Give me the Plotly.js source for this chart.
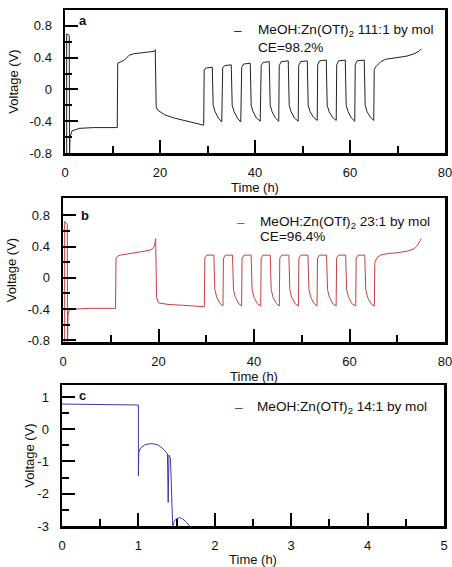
<!DOCTYPE html>
<html><head><meta charset="utf-8">
<script src="https://cdn.plot.ly/plotly-3.0.1.min.js"></script>
<style>html,body{margin:0;padding:0;background:#fff}#chart{width:452px;height:567px}</style>
</head><body><div id="chart"></div>
<script>
// ---- Panel a: MeOH:Zn(OTf)2 111:1 ----
const timeA = [0.35,0.35,0.9,0.95,1.05,1.5,3,6,11,
  11.1,12,12.5,13.5,14.5,16,18,18.8,19.0,19.2,19.5,21,23,25,27,28.5,29.2,
  29.3,29.8,31.0,31.2,31.6,32.3,33.0,
  33.2,33.6,35.0,35.2,35.6,36.3,37.0,
  37.2,37.6,39.0,39.2,39.6,40.3,41.1,
  41.3,41.7,43.0,43.2,43.6,44.3,45.0,
  45.1,45.5,47.0,47.2,47.6,48.3,49.1,
  49.2,49.6,51.0,51.2,51.6,52.3,53.1,
  53.2,53.6,55.0,55.2,55.6,56.3,57.1,
  57.2,57.6,59.0,59.2,59.6,60.3,61.0,
  61.1,61.5,63.0,63.2,63.6,64.3,65.0,
  65.1,65.5,66.5,67.5,70,72,73.5,74.5,75];
const voltA = [-0.9,0.7,0.68,-0.9,-0.6,-0.52,-0.49,-0.48,-0.48,
  0.33,0.35,0.37,0.43,0.45,0.46,0.47,0.48,0.5,-0.22,-0.26,-0.32,-0.36,-0.39,-0.42,-0.44,-0.45,
  0.25,0.27,0.28,-0.2,-0.28,-0.36,-0.41,
  0.27,0.30,0.31,-0.2,-0.28,-0.36,-0.41,
  0.28,0.32,0.33,-0.2,-0.28,-0.36,-0.40,
  0.30,0.34,0.35,-0.2,-0.28,-0.36,-0.40,
  0.30,0.35,0.36,-0.2,-0.28,-0.36,-0.40,
  0.30,0.35,0.36,-0.2,-0.28,-0.35,-0.39,
  0.31,0.36,0.37,-0.2,-0.28,-0.35,-0.39,
  0.31,0.36,0.37,-0.2,-0.28,-0.36,-0.40,
  0.31,0.36,0.37,-0.2,-0.28,-0.35,-0.39,
  0.25,0.29,0.35,0.38,0.40,0.42,0.45,0.48,0.51];

// ---- Panel b: MeOH:Zn(OTf)2 23:1 ----
const timeB = [0.35,0.35,0.9,0.95,1.05,1.3,2,6,11,
  11.1,11.5,12,14,16,18,18.8,19.2,19.4,19.5,19.6,20,22,25,28,29.6,
  29.7,30.1,31.6,31.8,32.2,32.9,33.5,
  33.6,34.0,35.5,35.7,36.1,36.8,37.4,
  37.5,37.9,39.4,39.6,40.0,40.7,41.4,
  41.5,41.9,43.4,43.6,44.0,44.7,45.3,
  45.4,45.8,47.3,47.5,47.9,48.6,49.3,
  49.4,49.8,51.3,51.5,51.9,52.6,53.2,
  53.3,53.7,55.2,55.4,55.8,56.5,57.2,
  57.3,57.7,59.2,59.4,59.8,60.5,61.3,
  61.4,61.8,63.2,63.4,63.8,64.5,65.2,
  65.3,65.8,66.5,68,70,72,73.5,74.3,75];
const voltB = [-0.9,0.72,0.68,-0.9,-0.48,-0.41,-0.40,-0.39,-0.39,
  0.25,0.28,0.29,0.31,0.33,0.35,0.37,0.42,0.5,0.2,-0.25,-0.32,-0.34,-0.35,-0.36,-0.37,
  0.25,0.29,0.29,-0.15,-0.25,-0.33,-0.36,
  0.25,0.29,0.29,-0.15,-0.25,-0.33,-0.36,
  0.25,0.29,0.29,-0.15,-0.25,-0.33,-0.36,
  0.25,0.29,0.29,-0.15,-0.25,-0.33,-0.36,
  0.25,0.29,0.29,-0.15,-0.25,-0.33,-0.36,
  0.25,0.29,0.29,-0.15,-0.25,-0.33,-0.36,
  0.25,0.29,0.29,-0.15,-0.25,-0.33,-0.36,
  0.25,0.29,0.29,-0.15,-0.25,-0.33,-0.36,
  0.25,0.29,0.29,-0.15,-0.25,-0.33,-0.36,
  0.2,0.26,0.29,0.31,0.32,0.34,0.37,0.42,0.5];

// ---- Panel c: MeOH:Zn(OTf)2 14:1 ----
const timeC = [0,0.5,0.99,1.0,1.0,1.005,1.03,1.08,1.14,1.19,1.25,1.31,1.35,1.38,1.39,1.40,1.42,1.43,1.44,1.45,1.47,1.50,1.54,1.58,1.62,1.67];
const voltC = [0.78,0.77,0.76,0.75,-1.45,-0.72,-0.58,-0.49,-0.45,-0.45,-0.48,-0.58,-0.68,-0.76,-2.27,-0.8,-0.9,-2.3,-2.4,-3.0,-2.85,-2.77,-2.74,-2.78,-2.86,-3.0];

// ---- ticks ----
const yTickValsAB = [-0.8,-0.4,0,0.4,0.8];
const yTickTextAB = ['-0.8','-0.4','0','0.4','0.8'];
const yMinorAB = [-0.6,-0.2,0.2,0.6];
const xTickValsAB = [0,20,40,60,80];
const xTickTextAB = ['0','20','40','60','80'];
const xMinorAB = [10,30,50,70];
const yTickValsC = [-3,-2,-1,0,1];
const yTickTextC = ['-3','-2','-1','0','1'];
const yMinorC = [-2.5,-1.5,-0.5,0.5];
const xTickValsC = [0,1,2,3,4,5];
const xTickTextC = ['0','1','2','3','4','5'];
const xMinorC = [0.5,1.5,2.5,3.5,4.5];

const legendA = 'MeOH:Zn(OTf)<sub>2</sub> 111:1 by mol';
const legendB = 'MeOH:Zn(OTf)<sub>2</sub> 23:1 by mol';
const legendC = 'MeOH:Zn(OTf)<sub>2</sub> 14:1 by mol';

const W = 452, H = 567;
const FONT = {family:'Liberation Sans, Arial, sans-serif', size:13, color:'#111'};
const LFONT = {family:'Liberation Sans, Arial, sans-serif', size:13.6, color:'#111'};
function px(x){return x/W;}
function py(y){return 1 - y/H;}

function xAxis(vals, text, minor, range, dom, anchor, tStand){
  return {domain:[px(dom[0]),px(dom[1])], range:range, anchor:anchor,
    tickmode:'array', tickvals:vals, ticktext:text, ticks:'inside', ticklen:13, tickwidth:2, tickcolor:'#000',
    minor:{tickmode:'array', tickvals:minor, ticks:'inside', ticklen:7, tickwidth:2, tickcolor:'#000'},
    showline:true, linewidth:2.5, linecolor:'#000', mirror:true, showgrid:false, zeroline:false,
    ticklabelstandoff:6, ticklabeloverflow:'allow', tickfont:FONT,
    title:{text:'Time (h)', font:FONT, standoff:tStand}};
}
function yAxis(vals, text, minor, range, dom, anchor, tStand){
  return {domain:[py(dom[1]),py(dom[0])], range:range, anchor:anchor,
    tickmode:'array', tickvals:vals, ticktext:text, ticks:'inside', ticklen:13, tickwidth:2, tickcolor:'#000',
    minor:{tickmode:'array', tickvals:minor, ticks:'inside', ticklen:7, tickwidth:2, tickcolor:'#000'},
    showline:true, linewidth:2.5, linecolor:'#000', mirror:true, showgrid:false, zeroline:false,
    ticklabelstandoff:8, ticklabeloverflow:'allow', tickfont:FONT,
    title:{text:'Voltage (V)', font:FONT, standoff:tStand}};
}

const data = [
  {x:timeA, y:voltA, xaxis:'x', yaxis:'y', mode:'lines', line:{color:'#222', width:1}, name:legendA, showlegend:false},
  {x:timeB, y:voltB, xaxis:'x2', yaxis:'y2', mode:'lines', line:{color:'#c8403f', width:1}, name:legendB, showlegend:false},
  {x:timeC, y:voltC, xaxis:'x3', yaxis:'y3', mode:'lines', line:{color:'#3a3aa8', width:1}, name:legendC, showlegend:false}
];

function ann(x,y,text,color,font){
  const f = Object.assign({}, font||FONT);
  if(color) f.color = color;
  return {xref:'paper', yref:'paper', x:px(x), y:py(y), text:text, showarrow:false,
    xanchor:'left', yanchor:'middle', font:f};
}

const layout = {
  width:W, height:H, margin:{l:0,r:0,t:0,b:0}, paper_bgcolor:'#fff', plot_bgcolor:'#fff',
  showlegend:false, font:FONT,
  xaxis: xAxis(xTickValsAB, xTickTextAB, xMinorAB, [0,80], [65,445], 'y', 0),
  yaxis: yAxis(yTickValsAB, yTickTextAB, yMinorAB, [-0.8,1.0], [10,153], 'x', 8),
  xaxis2: xAxis(xTickValsAB, xTickTextAB, xMinorAB, [0,80], [63,445], 'y2', 0),
  yaxis2: yAxis(yTickValsAB, yTickTextAB, yMinorAB, [-0.82,1.02], [198,342], 'x2', 8),
  xaxis3: xAxis(xTickValsC, xTickTextC, xMinorC, [0,5], [62,444], 'y3', 7),
  yaxis3: yAxis(yTickValsC, yTickTextC, yMinorC, [-3,1.37], [385,526], 'x3', 0),
  annotations:[
    ann(77,21,'<b>a</b>'),
    ann(79,215,'<b>b</b>'),
    ann(77,395,'<b>c</b>'),
    ann(232,30,'–','#222',LFONT),
    ann(256,30,legendA,null,LFONT),
    ann(256,47,'CE=98.2%',null,LFONT),
    ann(235,222,'–','#c8403f',LFONT),
    ann(258,222,legendB,null,LFONT),
    ann(258,237,'CE=96.4%',null,LFONT),
    ann(233,407,'–','#3a3aa8',LFONT),
    ann(255,407,legendC,null,LFONT)
  ]
};
Plotly.newPlot('chart', data, layout, {displayModeBar:false, staticPlot:true});
</script></body></html>
